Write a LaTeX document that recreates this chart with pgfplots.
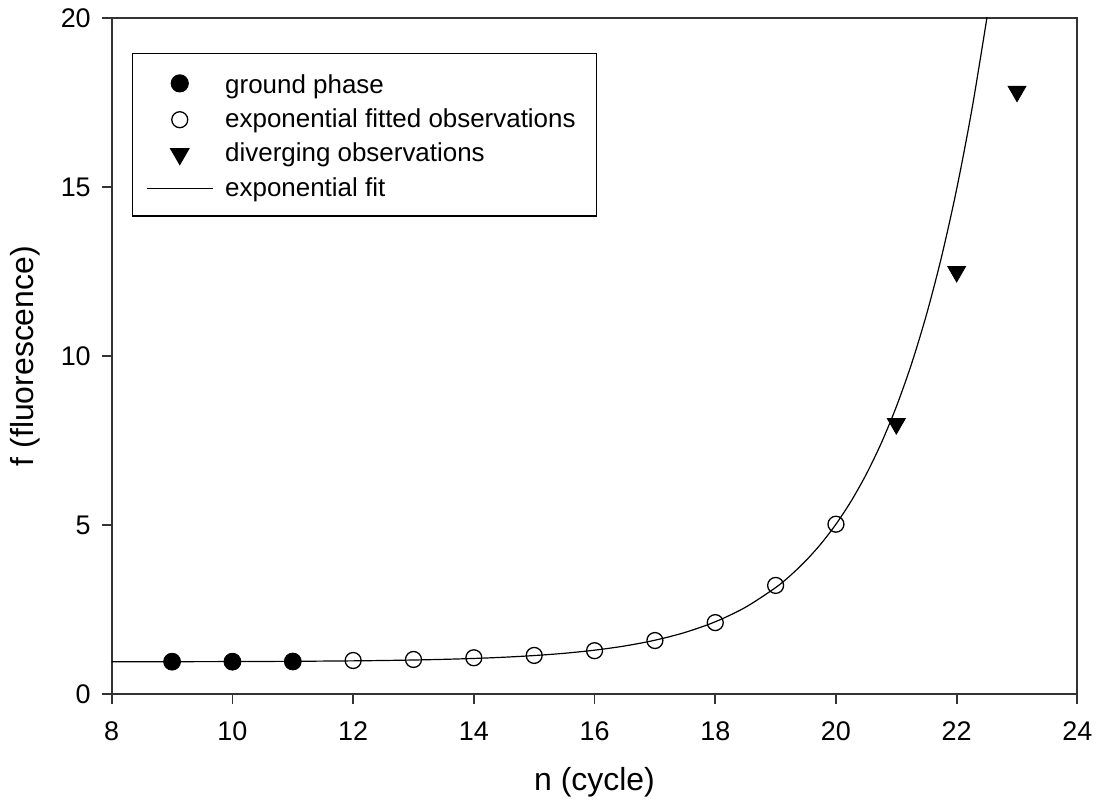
\documentclass[border=0pt]{standalone}
\usepackage{fontspec}
\setmainfont{Liberation Sans}
\usepackage{pgfplots}
\pgfplotsset{compat=1.18}
\begin{document}
\begin{tikzpicture}
\pgfplotsset{
  markleg/.style={legend image code/.code={\path (0pt,0pt) (33pt,0pt); \draw[##1] plot coordinates {(16.5pt,0pt)};}},
  lineleg/.style={legend image code/.code={\draw[##1] (0pt,0pt) -- (33pt,0pt);}}
}
\begin{axis}[
  scale only axis, width=484pt, height=339pt,
  xmin=8, xmax=24, ymin=0, ymax=20,
  xtick={8,10,12,14,16,18,20,22,24}, ytick={0,5,10,15,20},
  tick align=inside, major tick length=-5pt,
  xtick pos=left, ytick pos=left,
  tick style={black!80, line width=0.9pt},
  axis line style={black!80, line width=0.9pt},
  ticklabel style={font=\fontsize{13.5}{15}\selectfont},
  xticklabel style={yshift=-10.2pt},
  yticklabel style={xshift=-7pt},
  /pgf/number format/assume math mode=true,
  every axis x label/.style={at={(axis description cs:0.5,-0.1298)}, anchor=center, font=\fontsize{16}{19}\selectfont},
  every axis y label/.style={at={(axis description cs:-0.0899,0.5)}, rotate=90, anchor=center, font=\fontsize{16}{19}\selectfont},
  xlabel={n (cycle)}, ylabel={f (fluorescence)},
  legend cell align=left,
  legend style={draw=black, line width=0.6pt, at={(axis description cs:0.02066,0.9484)}, anchor=north west,
    font=\fontsize{13}{15.6}\selectfont, inner xsep=7pt, inner ysep=6.5pt, row sep=2.25pt,
    /tikz/every odd column/.append style={column sep=4pt}},
]
\addplot[only marks, mark=*, mark size=4.25pt, mark options={fill=black, draw=black}, markleg] coordinates {
(9,0.965) (10,0.965) (11,0.97)};
\addlegendentry{\rule{0pt}{11.5pt}ground phase}
\addplot[only marks, mark=o, mark size=4pt, mark options={draw=black, line width=0.65pt}, markleg] coordinates {
(12,1.00) (13,1.03) (14,1.08) (15,1.15) (16,1.29) (17,1.59) (18,2.12) (19,3.22) (20,5.03)};
\addlegendentry{exponential fitted observations\rule{1.5pt}{0pt}}
\addplot[only marks, mark=triangle*, mark size=5.2pt, mark options={rotate=180, fill=black, draw=black}, markleg] coordinates {
(21,8.0) (22,12.5) (23,17.83)};
\addlegendentry{diverging observations}
\addplot[black, line width=0.6pt, smooth, mark=none, lineleg] coordinates {
(8,0.9625) (9,0.9646) (10,0.9685) (11,0.9758) (12,0.9893) (12.5,0.9999) (13,1.0142) (13.5,1.0338)
(14,1.0604) (14.5,1.0967) (15,1.1461) (15.5,1.2134) (16,1.3050) (16.5,1.4297) (17,1.5994) (17.5,1.8305)
(18,2.1448) (18.5,2.573) (19,3.1558) (19.25,3.522) (19.5,3.9494) (19.75,4.448) (20,5.03) (20.25,5.709)
(20.5,6.501) (20.75,7.425) (21,8.504) (21.25,9.762) (21.5,11.230) (21.75,12.943) (22,14.942)
(22.25,17.274) (22.5,19.99) (22.55,20.59)};
\addlegendentry{exponential fit}
\coordinate (sw) at (rel axis cs:0,0);
\coordinate (ne) at (rel axis cs:1,1);
\end{axis}
\path ([shift={(-56pt,-54.5pt)}]sw) rectangle ([shift={(9.5pt,9pt)}]ne);
\end{tikzpicture}
\end{document}
